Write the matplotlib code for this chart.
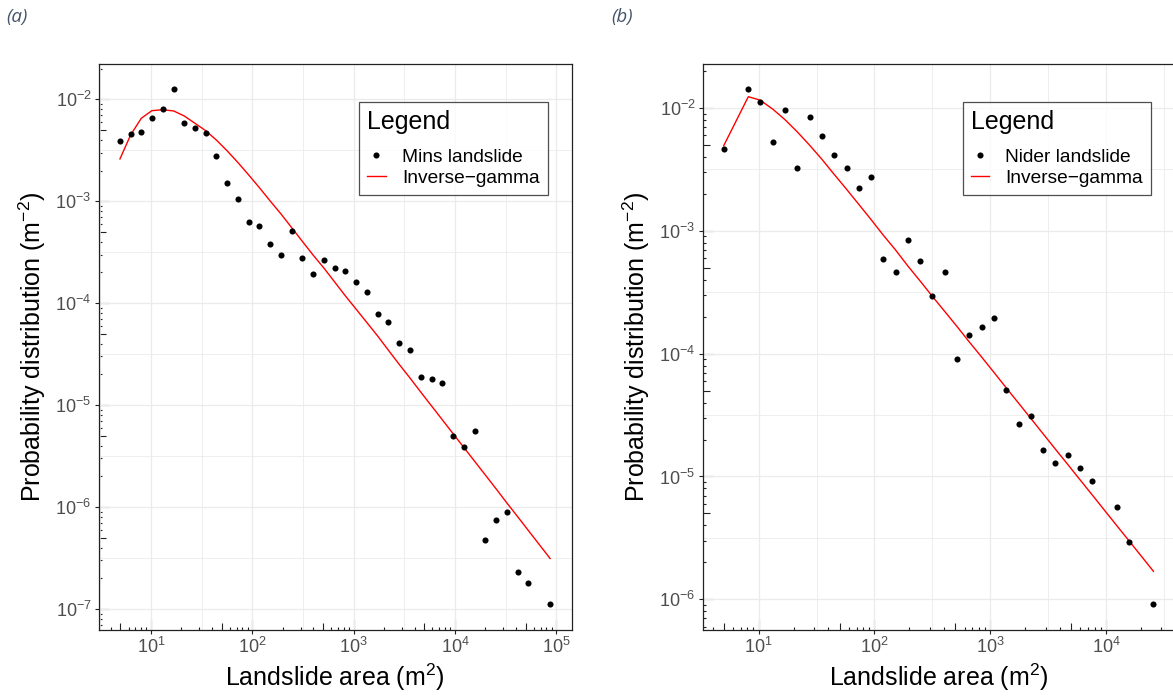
import numpy as np
import matplotlib
matplotlib.use("Agg")
import matplotlib.pyplot as plt
from matplotlib import ticker

plt.rcParams['font.family'] = ['Liberation Sans', 'DejaVu Sans']
plt.rcParams['mathtext.fontset'] = 'custom'
plt.rcParams['mathtext.rm'] = 'Liberation Sans'
plt.rcParams['mathtext.it'] = 'Liberation Sans:italic'
plt.rcParams['mathtext.bf'] = 'Liberation Sans:bold'

# (a) Mins landslide
mins_area = [4.94, 6.30, 8.02, 10.2, 13.05, 16.75, 21.3, 27.2, 34.7, 44.1,
             56.3, 72.3, 92.1, 117.3, 149.5, 192, 244.8, 311.6, 397.4, 510.5,
             650.7, 828, 1056, 1347, 1730, 2200, 2826, 3605, 4628, 5902,
             7510, 9577, 12216, 15683, 19958, 25448, 32469, 41687, 53049, 86864]
mins_prob = [3.90e-3, 4.57e-3, 4.78e-3, 6.55e-3, 8.04e-3, 1.26e-2, 5.85e-3, 5.26e-3, 4.67e-3, 2.80e-3,
             1.52e-3, 1.06e-3, 6.21e-4, 5.67e-4, 3.83e-4, 2.99e-4, 5.07e-4, 2.75e-4, 1.92e-4, 2.63e-4,
             2.21e-4, 2.08e-4, 1.62e-4, 1.28e-4, 7.76e-5, 6.52e-5, 4.06e-5, 3.44e-5, 1.87e-5, 1.79e-5,
             1.66e-5, 5.00e-6, 3.90e-6, 5.52e-6, 4.77e-7, 7.49e-7, 8.85e-7, 2.30e-7, 1.79e-7, 1.11e-7]
mins_fit = [2.60e-3, 4.47e-3, 6.51e-3, 7.73e-3, 7.90e-3, 7.68e-3, 6.86e-3, 5.81e-3, 4.92e-3, 3.99e-3,
            3.13e-3, 2.39e-3, 1.81e-3, 1.36e-3, 1.01e-3, 7.49e-4, 5.50e-4, 4.04e-4, 2.97e-4, 2.20e-4,
            1.61e-4, 1.18e-4, 8.75e-5, 6.48e-5, 4.75e-5, 3.46e-5, 2.50e-5, 1.84e-5, 1.33e-5, 9.75e-6,
            7.17e-6, 5.25e-6, 3.85e-6, 2.80e-6, 2.06e-6, 1.51e-6, 1.10e-6, 8.01e-7, 5.88e-7, 3.13e-7]

# (b) Nider landslide
nider_area = [4.99, 8.14, 10.3, 13.3, 17.0, 21.5, 27.5, 35.2, 44.9, 57.4,
              73.3, 93.1, 118.9, 152.1, 194.2, 248, 314.7, 405, 514, 656,
              840, 1072, 1369, 1751, 2236, 2838, 3623, 4636, 5918, 7555,
              12340, 15670, 25590]
nider_prob = [4.66e-3, 1.43e-2, 1.12e-2, 5.26e-3, 9.63e-3, 3.23e-3, 8.45e-3, 5.95e-3, 4.14e-3, 3.23e-3,
              2.23e-3, 2.74e-3, 5.86e-4, 4.59e-4, 8.37e-4, 5.64e-4, 2.94e-4, 4.62e-4, 8.98e-5, 1.41e-4,
              1.66e-4, 1.95e-4, 5.05e-5, 2.66e-5, 3.12e-5, 1.63e-5, 1.28e-5, 1.50e-5, 1.18e-5, 9.23e-6,
              5.67e-6, 2.94e-6, 9.09e-7]
nider_fit = [4.93e-3, 1.236e-2, 1.16e-2, 9.76e-3, 7.99e-3, 6.41e-3, 4.99e-3, 3.82e-3, 2.88e-3, 2.18e-3,
             1.64e-3, 1.24e-3, 9.24e-4, 6.98e-4, 5.17e-4, 3.90e-4, 2.94e-4, 2.20e-4, 1.67e-4, 1.25e-4,
             9.40e-5, 7.06e-5, 5.28e-5, 3.96e-5, 2.97e-5, 2.24e-5, 1.68e-5, 1.26e-5, 9.45e-6, 7.10e-6,
             3.98e-6, 3.01e-6, 1.69e-6]

W, H = 1173, 697
fig = plt.figure(figsize=(W / 100, H / 100), dpi=100)

GRID = '#EBEBEB'
DARK = '#222222'


def half_decades(lo, hi):
    return [10 ** (k + 0.5) for k in range(int(np.floor(np.log10(lo))) - 1, int(np.ceil(np.log10(hi))) + 1)]


def log_ticks(ax):
    # ggplot annotation_logticks style: ticks drawn inside, long / mid / short
    for side in ['x', 'y']:
        if side == 'x':
            s1 = ax.secondary_xaxis('bottom')
            s2 = ax.secondary_xaxis('bottom')
            a1, a2 = s1.xaxis, s2.xaxis
        else:
            s1 = ax.secondary_yaxis('left')
            s2 = ax.secondary_yaxis('left')
            a1, a2 = s1.yaxis, s2.yaxis
        for s in (s1, s2):
            for sp in s.spines.values():
                sp.set_visible(False)
        a1.set_major_locator(ticker.LogLocator(base=10, subs=(1.0,), numticks=30))
        a1.set_minor_locator(ticker.LogLocator(base=10, subs=(2, 3, 4, 6, 7, 8, 9), numticks=30))
        a2.set_major_locator(ticker.LogLocator(base=10, subs=(5,), numticks=30))
        a2.set_minor_locator(ticker.NullLocator())
        a1.set_major_formatter(ticker.NullFormatter())
        a1.set_minor_formatter(ticker.NullFormatter())
        a2.set_major_formatter(ticker.NullFormatter())
        s1.tick_params(which='major', direction='in', length=7.2, width=0.8, color=DARK)
        s1.tick_params(which='minor', direction='in', length=2.4, width=0.8, color=DARK)
        s2.tick_params(which='major', direction='in', length=4.8, width=0.8, color=DARK)


def draw_panel(ax, area, prob, fit, name, xlim, ylim):
    ax.set_xscale('log')
    ax.set_yscale('log')
    ax.set_xlim(*xlim)
    ax.set_ylim(*ylim)

    line, = ax.plot(area, fit, color='#FF0000', lw=1.0, zorder=3, label='Inverse\u2212gamma')
    pts, = ax.plot(area, prob, 'o', color='black', ms=4.4, mew=0, zorder=4, label=name)

    ax.xaxis.set_major_locator(ticker.LogLocator(base=10, subs=(1.0,), numticks=30))
    ax.yaxis.set_major_locator(ticker.LogLocator(base=10, subs=(1.0,), numticks=30))
    ax.xaxis.set_minor_locator(ticker.FixedLocator(half_decades(*xlim)))
    ax.yaxis.set_minor_locator(ticker.FixedLocator(half_decades(*ylim)))
    ax.xaxis.set_minor_formatter(ticker.NullFormatter())
    ax.yaxis.set_minor_formatter(ticker.NullFormatter())

    ax.grid(True, which='major', color=GRID, lw=0.9)
    ax.grid(True, which='minor', color=GRID, lw=0.6)
    ax.set_axisbelow(True)

    ax.tick_params(which='major', direction='out', length=2.7, width=0.8, color=DARK,
                   labelsize=13, labelcolor='#4D4D4D', pad=2.5)
    ax.tick_params(which='minor', length=0)
    for sp in ax.spines.values():
        sp.set_color(DARK)
        sp.set_linewidth(0.9)

    ax.set_xlabel('Landslide area (m$^{2}$)', fontsize=18, labelpad=3)
    ax.set_ylabel('Probability distribution (m$^{-2}$)', fontsize=18, labelpad=5)

    log_ticks(ax)

    leg = ax.legend(handles=[pts, line], title='Legend', loc='upper left',
                    bbox_to_anchor=(0.551, 0.932), borderaxespad=0, fontsize=13.8,
                    title_fontsize=18, frameon=True, fancybox=False, edgecolor=DARK,
                    handlelength=0.95, handletextpad=0.85, borderpad=0.42, labelspacing=0.2,
                    alignment='left', markerscale=1.0)
    leg.get_frame().set_linewidth(0.9)
    leg._legend_box.sep = 10
    leg.set_zorder(10)


bottom = 1 - 630 / H
height = (630 - 63.7) / H

ax1 = fig.add_axes([98.7 / W, bottom, 473 / W, height])
draw_panel(ax1, mins_area, mins_prob, mins_fit, 'Mins landslide',
           (10 ** 0.484, 10 ** 5.152), (10 ** -7.206, 10 ** -1.651))

ax2 = fig.add_axes([702.7 / W, bottom, 472.3 / W, height])
draw_panel(ax2, nider_area, nider_prob, nider_fit, 'Nider landslide',
           (10 ** 0.517, 10 ** 4.594), (10 ** -6.25, 10 ** -1.639))

fig.text(6 / W, 1 - 8 / H, '(a)', fontsize=13.5, style='italic', color='#44546A',
         family=['Open Sans', 'DejaVu Sans'], va='top', ha='left')
fig.text(611 / W, 1 - 8 / H, '(b)', fontsize=13.5, style='italic', color='#44546A',
         family=['Open Sans', 'DejaVu Sans'], va='top', ha='left')

fig.savefig('out.png', dpi=100)
